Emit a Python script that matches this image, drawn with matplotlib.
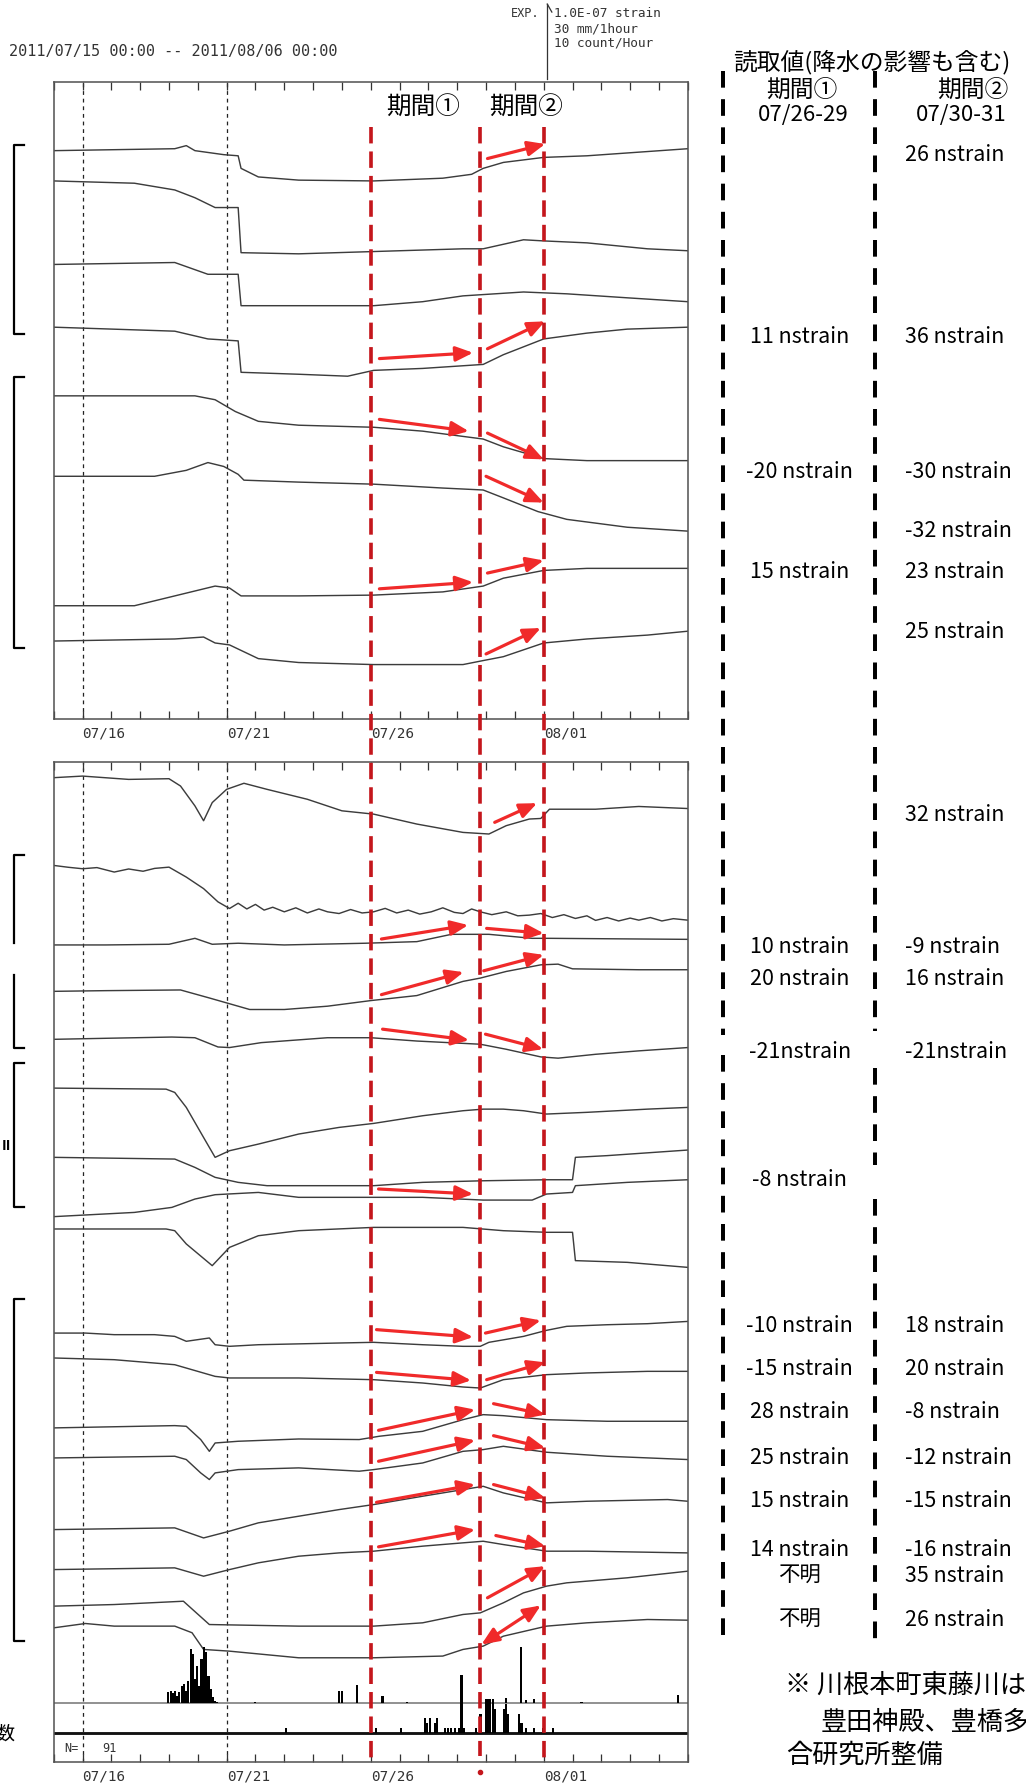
import matplotlib
matplotlib.use("Agg")
import matplotlib.pyplot as plt
from matplotlib.lines import Line2D
from matplotlib.transforms import blended_transform_factory

JP = ["Noto Sans CJK JP", "DejaVu Sans"]
MONO = "DejaVu Sans Mono"
plt.rcParams.update({"font.family": JP})

# page layout units: 898 x 1568 (the figure is 1026 x 1791 px)
PAGE_W, PAGE_H = 898, 1568
DPI = 1026 / 8.98

# x axis: days since 2011/07/15 00:00
DAY_TICKS = list(range(0, 23))
DATE_LABELS = {1: "07/16", 6: "07/21", 11: "07/26", 17: "08/01"}
GUIDE_DAYS = [1, 6]
PERIOD_DAYS = [11, 14.8, 17]

# ---- upper panel traces (day, level) ----
T1 = ([0, 4.2, 4.6, 4.9, 5.9, 6.4, 6.5, 7.1, 8.5, 11.1, 13.5, 14.5, 14.9, 15.6, 17, 18.5, 22],
      [132.3, 130.6, 127.9, 132.3, 135.8, 136.8, 147.8, 155.3, 158.1, 158.8, 156.4, 153, 147.8, 142.6, 138.2, 136.8, 130.6])
T2 = ([0, 2.8, 4.2, 4.9, 5.6, 6.4, 6.5, 8.5, 11.1, 14.2, 14.9, 16.3, 17, 18.5, 20.6, 22],
      [158.8, 160.8, 166.7, 173.5, 182.1, 182.1, 221.6, 222.6, 220.6, 218.2, 218.2, 210.3, 211.3, 213, 218.2, 219.9])
T3 = ([0, 4.2, 5.35, 6.4, 6.5, 8.5, 11.1, 12.8, 14.2, 16.3, 17.8, 19.9, 22],
      [231.9, 230.2, 240.5, 240.5, 268, 268, 268, 264.5, 259.4, 256, 257.6, 261.1, 264.5])
T4 = ([0, 4.2, 5.35, 6.4, 6.5, 8.5, 10.2, 11.1, 12.8, 14.9, 15.6, 17, 18.5, 19.9, 22],
      [286.8, 290.3, 297.1, 298.8, 326.3, 328, 329.7, 324.6, 322.9, 319.4, 310.9, 297.1, 292, 288.5, 286.8])
T5 = ([0, 4.9, 5.6, 6.3, 7.1, 8.5, 11.1, 12.8, 14.9, 15.6, 17, 18.5, 22],
      [346.9, 346.9, 350.3, 360.6, 369.2, 372.6, 374.4, 377.8, 384.7, 391.5, 401.8, 403.6, 403.6])
T6 = ([0, 3.5, 4.6, 5.35, 5.9, 6.4, 6.6, 8.5, 11.1, 13.5, 14.9, 15.6, 16.8, 17.8, 19.9, 22],
      [417.3, 417.3, 412.1, 405.3, 408.7, 415.6, 420.7, 422.4, 424.2, 427.6, 429.3, 436.2, 448.2, 455, 461.9, 465.3])
T7 = ([0, 2.8, 4.2, 5.6, 6.1, 6.5, 8.5, 11.1, 13.5, 14.9, 15.6, 17, 18.5, 22],
      [530.6, 530.6, 522, 513.4, 515.1, 522, 522, 521.3, 518.5, 513.4, 506.5, 499.7, 497.9, 497.9])
T8 = ([0, 4.2, 5.2, 5.6, 6.1, 7.1, 8.5, 11.1, 14.2, 14.9, 15.6, 17, 18.5, 20.6, 22],
      [561.5, 559.7, 558, 563.2, 564.9, 576.9, 580.3, 582.1, 582.1, 578.6, 575.2, 563.2, 559.7, 556.3, 552.9])
TOP_TRACES = [T1, T2, T3, T4, T5, T6, T7, T8]

# ---- lower panel traces ----
B1 = ([0, 1.0, 2.6, 4.0, 4.4, 4.9, 5.2, 5.5, 6.0, 6.6, 7.4, 8.8, 10.0, 11.1, 12.6, 14.2, 15.1, 15.7, 16.5, 16.9, 17.2, 18.8, 20.3, 22],
      [681.1, 679.7, 682.6, 682, 688.4, 705.8, 718.8, 702.9, 691.3, 686, 691.3, 700, 710.1, 713, 721.7, 729, 730.4, 723.1, 717.3, 716.8, 708.7, 708.7, 706.3, 708.1])
B2 = ([0, 0.5, 1.0, 1.5, 2.1, 2.6, 3.1, 3.5, 4.0, 4.6, 5.2, 5.7, 6.1, 6.4, 6.7, 7.0, 7.3, 7.6, 8.0, 8.4,
       8.8, 9.2, 9.5, 9.9, 10.3, 10.7, 11.1, 11.5, 11.9, 12.3, 12.7, 13.1, 13.5, 13.9, 14.2, 14.5, 14.8,
       15.2, 15.7, 16.1, 16.5, 16.9, 17.3, 17.7, 18.1, 18.5, 18.8, 19.2, 19.6, 20.0, 20.3, 20.7, 21.1, 21.5, 22],
      [757.9, 759.5, 760.8, 759.8, 763.7, 761, 763, 760.5, 759.4, 768.1, 778.2, 789.8, 795.6, 791, 796, 792,
       797, 794.5, 798.5, 795, 799.5, 796, 798.5, 800, 796.5, 799.5, 798.5, 795.5, 799.5, 797, 800.5, 798.5,
       795, 799, 800, 796, 798.5, 801, 798.5, 802, 801.4, 800, 803.5, 801, 804.3, 802, 806, 803.5, 806.5,
       804, 805.8, 803.5, 806.5, 804.5, 805.8])
B3 = ([0, 1.8, 4.0, 4.9, 5.5, 6.4, 8.0, 10.8, 12.6, 13.8, 15.1, 16.6, 17.2, 22],
      [827.5, 827.5, 826.9, 821.7, 826.9, 826, 827.5, 826, 824.6, 818.2, 818.2, 821.7, 821.7, 822.6])
B4 = ([0, 1.8, 4.4, 5.4, 6.8, 8.0, 9.5, 11.0, 12.6, 14.2, 14.8, 15.7, 16.9, 17.5, 18.0, 20.3, 22],
      [868.1, 867.5, 866.9, 873.9, 884, 884, 881.1, 876.2, 871.8, 859.4, 856.5, 850.7, 844.9, 844.3, 848.4, 849.2, 849.2])
B5 = ([0, 1.8, 4.1, 4.9, 5.7, 6.1, 7.2, 9.5, 11.0, 12.6, 14.8, 15.7, 16.9, 17.5, 18.8, 20.3, 22],
      [910.1, 909.2, 908.1, 908.7, 916.8, 917.3, 913, 908.7, 908.7, 911.6, 914.4, 918.8, 925.5, 926.6, 923.2, 920.2, 917.3])
B6 = ([0, 3.9, 4.2, 4.6, 5.2, 5.6, 6.1, 7.1, 8.5, 9.9, 11.1, 12.8, 14.2, 14.9, 15.6, 16.3, 17.1, 18.5, 20.6, 22],
      [952.8, 953.7, 956.6, 969.7, 996, 1013.4, 1007.6, 1001.8, 993, 987.2, 983.7, 977, 972.6, 971.2, 971.2, 972.6, 975.5, 974, 971.2, 969.7])
B7 = ([0, 4.2, 4.9, 5.6, 6.4, 7.4, 9.9, 11.1, 12.8, 14.9, 17.1, 18.0, 18.1, 19.2, 22],
      [1013.4, 1014.9, 1022.2, 1030.9, 1035.3, 1038.2, 1038.2, 1038.2, 1035.3, 1033.9, 1033, 1033, 1013.4, 1011.9, 1007])
B8 = ([0, 2.8, 4.1, 4.9, 5.6, 7.1, 8.5, 11.1, 12.8, 14.9, 16.6, 17.1, 18.0, 18.1, 19.9, 22],
      [1065.3, 1061.6, 1057.2, 1049.9, 1046.1, 1044.1, 1048.4, 1048.4, 1048.4, 1050.8, 1050.8, 1045.5, 1044.1, 1038.2, 1035.3, 1033])
B9 = ([0, 3.9, 4.2, 4.6, 5.5, 6.1, 7.1, 8.5, 11.1, 14.2, 15.6, 17.1, 18.0, 18.1, 19.9, 22],
      [1076.1, 1076.1, 1077.6, 1089.2, 1108.2, 1092.2, 1082, 1077.6, 1074.7, 1074.7, 1077.6, 1079, 1079, 1103.8, 1105.3, 1109.7])
B10 = ([0, 1.1, 2.1, 3.5, 4.2, 4.6, 5.4, 5.6, 6.1, 7.1, 9.9, 11.1, 12.8, 14.2, 14.8, 15.1, 16.3, 17.1, 17.8, 19.2, 20.6, 22],
       [1167.2, 1167.2, 1168.6, 1168.6, 1170.1, 1174.4, 1171.5, 1177.4, 1178.8, 1177.4, 1175.9, 1175.3, 1177.4, 1178.8, 1178.8, 1175.3, 1170.1, 1164.8, 1161.3, 1159.9, 1159, 1157])
B11 = ([0, 2.1, 4.2, 5.6, 6.1, 8.5, 11.1, 12.8, 14.2, 14.8, 15.6, 17.1, 18.5, 20.6, 22],
       [1189, 1190.5, 1194.9, 1205.1, 1206.5, 1206.5, 1208, 1210.9, 1214.4, 1215.3, 1208, 1203.6, 1202.1, 1200.7, 1200.7])
B12 = ([0, 4.2, 4.6, 5.1, 5.4, 5.6, 6.4, 8.5, 10.6, 11.3, 12.8, 14.2, 14.9, 15.6, 17.1, 19.2, 22],
       [1250.2, 1248.2, 1248.8, 1260.4, 1270.7, 1263.4, 1261.9, 1259.9, 1260.4, 1257.5, 1253.2, 1243, 1238.6, 1239.5, 1243, 1244.4, 1244.4])
B13 = ([0, 4.2, 4.6, 5.1, 5.4, 5.6, 6.4, 8.5, 10.6, 11.1, 12.8, 14.2, 14.9, 15.6, 17.1, 19.2, 22],
       [1276.5, 1275, 1277.9, 1289.6, 1295.4, 1289.6, 1286.7, 1285.2, 1288.1, 1286.7, 1280.9, 1270.7, 1269.2, 1266.3, 1271.5, 1275, 1277.9])
B14 = ([0, 4.2, 5.2, 6.1, 7.1, 8.5, 9.9, 11.1, 12.8, 14.2, 14.9, 15.6, 17.1, 18.5, 21.3, 22],
       [1339.2, 1337.7, 1346.5, 1340.6, 1333.3, 1327.5, 1321.7, 1317.3, 1310, 1304.2, 1301.3, 1307.1, 1315.8, 1314.4, 1312.9, 1314.4])
B15 = ([0, 4.2, 5.2, 6.1, 7.1, 8.5, 9.9, 11.1, 12.8, 14.2, 14.9, 15.6, 17.1, 18.5, 22],
       [1374.2, 1372.7, 1380, 1374.2, 1368.3, 1362.5, 1359.6, 1358.1, 1353.7, 1350.8, 1349.4, 1352.3, 1358.1, 1358.1, 1359.6])
B16 = ([0, 2.1, 4.5, 5.4, 8.5, 11.1, 12.8, 14.2, 14.8, 15.6, 16.3, 17.1, 17.8, 19.9, 22],
       [1406.2, 1404.8, 1401.9, 1422.3, 1423.7, 1423.7, 1420.8, 1413.5, 1412.1, 1403.3, 1394.6, 1388.7, 1385.8, 1381.4, 1375.6])
B17 = ([0, 1.1, 2.1, 4.2, 4.8, 5.2, 6.1, 8.5, 11.1, 13.5, 14.2, 14.9, 15.6, 17.1, 18.5, 20.6, 22],
       [1425.2, 1421.4, 1423.7, 1423.7, 1429.5, 1444.1, 1445.6, 1451.4, 1451.4, 1449.9, 1444.1, 1441.2, 1432.5, 1423.7, 1420.8, 1417.9, 1418.5])
BOTTOM_TRACES = [B1, B2, B3, B4, B5, B6, B7, B8, B9, B10, B11, B12, B13, B14, B15, B16, B17]

# ---- red reading arrows: (day0, level0, day1, level1) ----
TOP_ARROWS = [(15.05, 139.2, 17.05, 126.5),
              (11.3, 314.3, 14.55, 309.2), (15.05, 305.7, 17.05, 281.7),
              (11.3, 367.5, 14.4, 377.8), (15.05, 379.5, 17.0, 402.5),
              (15.0, 417.3, 17.0, 440.3),
              (11.3, 515.8, 14.55, 510.0), (15.05, 502.0, 17.0, 491.0),
              (15.0, 572.8, 16.9, 550.1)]
BOTTOM_ARROWS = [(15.3, 720.2, 16.77, 703.4),
                 (11.37, 822.3, 14.38, 810.1), (15.02, 813.0, 17.0, 817.3),
                 (11.37, 871.0, 14.22, 851.3), (14.92, 850.1, 17.0, 836.2),
                 (11.41, 901.2, 14.41, 910.8), (14.98, 905.6, 16.98, 918.7),
                 (11.27, 1041.1, 14.55, 1045.5),
                 (11.2, 1164.2, 14.55, 1170.7), (14.98, 1167.2, 16.9, 1156.1),
                 (11.2, 1201.6, 14.48, 1208.6), (15.02, 1208.0, 17.05, 1192.8),
                 (11.27, 1252.3, 14.62, 1234.2), (15.26, 1229.0, 17.05, 1238.6),
                 (11.27, 1279.4, 14.62, 1261.0), (15.26, 1257.0, 17.05, 1267.7),
                 (11.2, 1315.3, 14.62, 1299.8), (15.26, 1299.8, 17.05, 1311.5),
                 (11.27, 1354.3, 14.62, 1339.2), (15.34, 1344.4, 17.05, 1353.7),
                 (15.05, 1398.9, 17.05, 1371.2)]
DOUBLE_ARROW = (14.84, 1439.8, 16.9, 1405.6)

# ---- hourly rain (mm) and event counts ----
RAIN_DAY = [3.98, 4.06, 4.13, 4.21, 4.29, 4.36, 4.44, 4.52, 4.59, 4.67, 4.75, 4.83, 4.9, 4.98,
            5.06, 5.13, 5.21, 5.29, 5.37, 5.44, 5.52, 5.6, 5.67, 6.98, 9.91, 9.99, 10.53,
            11.41, 12.25, 15.69, 16.2, 16.38, 16.66, 18.31, 21.65]
RAIN_MM = [6.6, 7.7, 6.2, 7.7, 4.6, 6.6, 10.9, 11.9, 7.7, 13.9, 33.7, 30.6, 15.0, 23.3,
           10.9, 27.5, 34.8, 31.6, 17.1, 8.7, 3.6, 1.4, 0.9, 0.9, 7.7, 7.7, 11.2,
           4.1, 0.9, 2.9, 34.8, 2.1, 2.5, 0.9, 5.0]
COUNT_DAY = [8.06, 11.19, 12.04, 12.87, 12.96, 13.07, 13.22, 13.30, 13.58, 13.69, 13.79, 13.92,
             14.07, 14.15, 14.22, 14.66, 14.81, 15.0, 15.07, 15.15, 15.23, 15.30, 15.61, 15.69,
             15.77, 16.15, 16.23, 16.38, 16.66, 16.97, 17.31]
COUNT_N = [1, 1, 1, 3, 2, 3, 2, 3, 1, 1, 1, 1, 1, 12, 1, 1, 4, 7, 7, 7, 7, 5, 5, 6, 4, 4, 2, 1, 1, 1, 1]
RAIN_BASE, COUNT_BASE = 1491, 1517
PX_PER_MM, PX_PER_COUNT = 42 / 30, 4.2

# ---- readings in the right column ----
READ_LEVEL = [136, 295, 413, 465, 501, 553, 713, 829, 857, 921, 1033,
              1161, 1198, 1236, 1276, 1314, 1357, 1379, 1418]
READ_P1 = ["", "11 nstrain", "-20 nstrain", "", "15 nstrain", "", "", "10 nstrain", "20 nstrain",
           "-21nstrain", "-8 nstrain", "-10 nstrain", "-15 nstrain", "28 nstrain", "25 nstrain",
           "15 nstrain", "14 nstrain", "不明", "不明"]
READ_P2 = ["26 nstrain", "36 nstrain", "-30 nstrain", "-32 nstrain", "23 nstrain", "25 nstrain",
           "32 nstrain", "-9 nstrain", "16 nstrain", "-21nstrain", "", "18 nstrain", "20 nstrain",
           "-8 nstrain", "-12 nstrain", "-15 nstrain", "-16 nstrain", "35 nstrain", "26 nstrain"]

# station group brackets (top, bottom)
BRACKETS = [(127, 293), (330, 568), (749, 918), (931, 1057), (1137, 1437)]

RED = "#f02a2a"
RED_DARK = "#c4161c"
TRACE = "#3c3c3c"
INK = "#333333"

fig = plt.figure(figsize=(8.98, 15.68), dpi=DPI, facecolor="white")
page = fig.add_axes([0, 0, 1, 1])
page.set_xlim(0, PAGE_W)
page.set_ylim(PAGE_H, 0)
page.axis("off")


def make_panel(top, bottom):
    ax = fig.add_axes([47 / PAGE_W, 1 - bottom / PAGE_H, 555 / PAGE_W, (bottom - top) / PAGE_H])
    ax.set_facecolor("none")
    ax.set_xlim(0, 22)
    ax.set_ylim(bottom, top)
    ax.set_yticks([])
    ax.set_xticks(DAY_TICKS)
    ax.set_xticklabels([DATE_LABELS.get(d, "") for d in DAY_TICKS],
                       fontfamily=MONO, fontsize=9, ha="left", color=INK)
    ax.tick_params(axis="x", direction="in", top=True, bottom=True, length=5, width=0.8,
                   pad=4, color=INK)
    for s in ax.spines.values():
        s.set_color("#555555")
        s.set_linewidth(1.0)
    for d in GUIDE_DAYS:
        ax.axvline(d, color="#222222", lw=0.8, ls=(0, (3, 3)), zorder=1)
    return ax


def draw_arrows(ax, arrows, style="-|>"):
    for x0, y0, x1, y1 in arrows:
        ax.annotate("", xy=(x1, y1), xytext=(x0, y0),
                    arrowprops=dict(arrowstyle=style + ",head_length=0.7,head_width=0.3",
                                    color=RED, lw=2.0, shrinkA=0, shrinkB=0,
                                    mutation_scale=13), zorder=6)


ax_top = make_panel(72, 630)
ax_bot = make_panel(667, 1543)

for xs, ys in TOP_TRACES:
    ax_top.plot(xs, ys, color=TRACE, lw=0.9, zorder=2)
for xs, ys in BOTTOM_TRACES:
    ax_bot.plot(xs, ys, color=TRACE, lw=0.9, zorder=2)

draw_arrows(ax_top, TOP_ARROWS)
draw_arrows(ax_bot, BOTTOM_ARROWS)
draw_arrows(ax_bot, [DOUBLE_ARROW], style="<|-|>")

# rain and count histograms
ax_bot.axhline(RAIN_BASE, color="#777777", lw=1.0, zorder=2)
ax_bot.axhline(COUNT_BASE, color="#111111", lw=1.8, zorder=2)
ax_bot.bar(RAIN_DAY, [-m * PX_PER_MM for m in RAIN_MM], bottom=RAIN_BASE, width=0.075,
           color="black", zorder=3)
ax_bot.bar(COUNT_DAY, [-n * PX_PER_COUNT for n in COUNT_N], bottom=COUNT_BASE, width=0.075,
           color="black", zorder=3)
ax_bot.text(0.35, 1530, "N=", fontfamily=MONO, fontsize=7.5, va="center", color=INK)
ax_bot.text(1.7, 1530, "91", fontfamily=MONO, fontsize=7.5, va="center", color=INK)

# period labels inside upper panel
ax_top.text(12.8, 94, "期間①", fontsize=15.5, va="center", ha="center", zorder=7)
ax_top.text(16.4, 94, "期間②", fontsize=15.5, va="center", ha="center", zorder=7)

# red dashed period boundaries across both panels
tr = blended_transform_factory(ax_top.transData, page.transData)
for i, d in enumerate(PERIOD_DAYS):
    y_end = 1537 if i == 1 else 1543
    fig.add_artist(Line2D([d, d], [112, y_end], transform=tr, color=RED_DARK, lw=2.3,
                          ls=(0, (4.5, 2.2)), zorder=8))
fig.add_artist(Line2D([PERIOD_DAYS[1]], [1551], transform=tr, color=RED_DARK, marker="o",
                      markersize=2.5, ls="none", zorder=8))

# header texts
page.text(8, 45, "2011/07/15 00:00 -- 2011/08/06 00:00", fontfamily=MONO, fontsize=9.5,
          va="center", color=INK)
page.text(472, 12, "EXP.", fontfamily=MONO, fontsize=7.5, ha="right", va="center", color=INK)
page.plot([479, 479], [4, 70], color=INK, lw=0.8)
page.plot([479, 483], [4, 11], color=INK, lw=0.8)
for k, s in enumerate(["1.0E-07 strain", "30 mm/1hour", "10 count/Hour"]):
    page.text(485, 12 + 13 * k, s, fontfamily=MONO, fontsize=8, va="center", color=INK)

# right column
page.text(642, 54, "読取値(降水の影響も含む)", fontsize=15, va="center")
page.text(702, 79, "期間①", fontsize=15, va="center", ha="center")
page.text(851, 79, "期間②", fontsize=15, va="center", ha="center")
page.text(703, 101, "07/26-29", fontsize=14, va="center", ha="center")
page.text(841, 101, "07/30-31", fontsize=14, va="center", ha="center")
for y, a, b in zip(READ_LEVEL, READ_P1, READ_P2):
    if a:
        page.text(700, y, a, fontsize=13.5, va="center", ha="center")
    if b:
        page.text(792, y, b, fontsize=13.5, va="center", ha="left")

dash_kw = dict(color="black", lw=2.5, ls=(0, (4.2, 2.9)), solid_capstyle="butt")
for y0, y1 in [(63, 906), (924, 1440)]:
    page.plot([633, 633], [y0, y1], **dash_kw)
for y0, y1 in [(63, 903), (935, 1020), (1050, 1440)]:
    page.plot([766, 766], [y0, y1], **dash_kw)

page.text(687, 1475, "※ 川根本町東藤川は", fontsize=16.5, va="center")
page.text(718, 1508, "豊田神殿、豊橋多米", fontsize=16.5, va="center")
page.text(688, 1536, "合研究所整備", fontsize=16.5, va="center")

# group brackets on the left
for top, bottom in BRACKETS:
    if top == 749:
        page.plot([21, 12, 12], [top, top, 826], color="black", lw=1.4)
        page.plot([12, 12, 21], [854, bottom, bottom], color="black", lw=1.4)
    else:
        page.plot([21, 12, 12, 21], [top, top, bottom, bottom], color="black", lw=1.4)
page.text(6, 1003, "II", fontsize=9, ha="center", va="center", fontweight="bold")
page.text(4, 1518, "数", fontsize=12, ha="center", va="center")

fig.savefig("out.png", dpi=DPI, facecolor="white")
